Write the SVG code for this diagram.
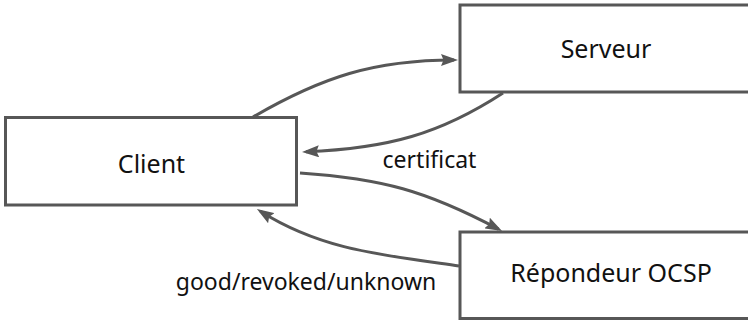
<svg xmlns="http://www.w3.org/2000/svg" width="748" height="320" viewBox="0 0 748 320">
  <style>
    .box { fill: #ffffff; stroke: #575757; stroke-width: 3; }
    .node-label { font-family: "Noto Sans", "Open Sans", sans-serif; font-size: 25px; fill: #111111; text-anchor: middle; }
    .edge { fill: none; stroke: #575757; stroke-width: 3; marker-end: url(#arrow); }
    .edge-label { font-family: "Noto Sans", "Open Sans", sans-serif; font-size: 23px; fill: #111111; text-anchor: middle; }
  </style>
  <defs>
    <marker id="arrow" markerUnits="userSpaceOnUse" viewBox="0 0 17 12" markerWidth="17" markerHeight="12" refX="13" refY="6" orient="auto">
      <path d="M0,0 L17,6 L0,12 L2.5,6 z" fill="#575757"/>
    </marker>
  </defs>

  <rect width="748" height="320" fill="#ffffff"/>

  <g id="client">
    <rect class="box" x="5.5" y="117.5" width="291" height="87.5"/>
    <text class="node-label" x="151.5" y="173">Client</text>
  </g>

  <g id="serveur">
    <rect class="box" x="460" y="5" width="291" height="87"/>
    <text class="node-label" x="606" y="58">Serveur</text>
  </g>

  <g id="repondeur">
    <rect class="box" x="460" y="232" width="291" height="86.5"/>
    <text class="node-label" x="611" y="282">Répondeur OCSP</text>
  </g>

  <g id="connectors">
    <!-- Client to Serveur -->
    <path class="edge" d="M253,117 C322,77 374,60 454,60"/>
    <!-- Serveur back to Client -->
    <path class="edge" d="M503,93 C440,134 388,148.5 306,151.8"/>
    <!-- Client to OCSP responder -->
    <path class="edge" d="M300,173 C382,178.7 426,190.6 498.5,229.1"/>
    <!-- OCSP responder back to Client -->
    <path class="edge" d="M459,266 C378,254.5 320,249 260.3,211.2"/>
    <text class="edge-label" x="429.5" y="168">certificat</text>
    <text class="edge-label" x="306" y="290">good/revoked/unknown</text>
  </g>
</svg>
